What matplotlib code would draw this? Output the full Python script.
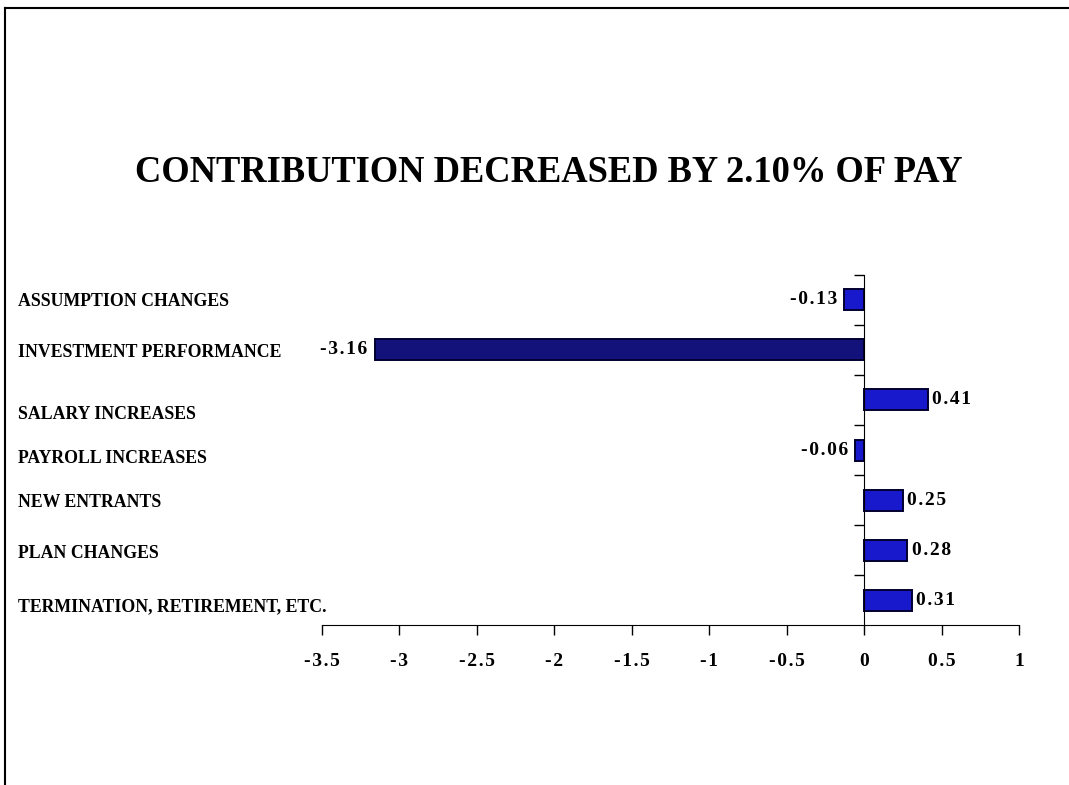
import numpy as np
import matplotlib as mpl
import matplotlib.pyplot as plt
from matplotlib import transforms
from matplotlib.lines import Line2D

mpl.use('Agg')
plt.rcParams['font.family'] = ['Liberation Serif', 'DejaVu Serif']
plt.rcParams['font.weight'] = 'bold'
plt.rcParams['axes.unicode_minus'] = False

title = 'CONTRIBUTION DECREASED BY 2.10% OF PAY'
categories = ['ASSUMPTION CHANGES', 'INVESTMENT PERFORMANCE', 'SALARY INCREASES',
              'PAYROLL INCREASES', 'NEW ENTRANTS', 'PLAN CHANGES',
              'TERMINATION, RETIREMENT, ETC.']
values = [-0.13, -3.16, 0.41, -0.06, 0.25, 0.28, 0.31]
xticks = [-3.5, -3, -2.5, -2, -1.5, -1, -0.5, 0, 0.5, 1]


def spaced(s):
    # the original text is slightly letter-spaced
    return '\u200a'.join(s)


fig = plt.figure(figsize=(10.69, 7.85), dpi=100)
ax = fig.add_axes([0.3012, 0.2038, 0.652, 0.4459])

y = np.arange(len(categories))
colors = ['#1818cc' if v != min(values) else '#12127a' for v in values]
ax.barh(y, values, height=0.42, color=colors, edgecolor='#000030', linewidth=1.4)

ax.set_ylim(len(categories) - 0.5, -0.5)
ax.set_xlim(-3.5, 1)
ax.set_yticks(np.arange(len(categories)) - 0.5)
ax.set_yticklabels([])
ax.set_xticks(xticks)
ax.set_xticklabels([spaced(f'{t:g}') for t in xticks], fontsize=14, fontweight='bold')
ax.tick_params(axis='x', direction='out', length=7, width=1, pad=13)
ax.tick_params(axis='y', direction='out', length=7, width=1)

ax.spines['left'].set_position(('data', 0))
ax.spines['top'].set_visible(False)
ax.spines['right'].set_visible(False)

# value labels next to bar ends
for yi, v in zip(y, values):
    if v < 0:
        ax.annotate(spaced(f'{v:.2f}'), (v, yi), xytext=(-5, 0), textcoords='offset points',
                    ha='right', va='center', fontsize=14, fontweight='bold')
    else:
        ax.annotate(spaced(f'{v:.2f}'), (v, yi), xytext=(3, 0), textcoords='offset points',
                    ha='left', va='center', fontsize=14, fontweight='bold')

# category labels at the left of the figure (small vertical nudges as in the original)
nudge = [2, 3, 15, 8, 2, 3, 7]
tr = transforms.blended_transform_factory(fig.transFigure, ax.transData)
for yi, c, n in zip(y, categories, nudge):
    t = transforms.offset_copy(tr, fig=fig, y=-n, units='dots')
    fig.text(0.017, yi, c, transform=t, ha='left', va='center',
             fontsize=12.8, fontweight='bold')

fig.text(0.513, 0.78, title, ha='center', va='center', fontsize=26.3, fontweight='bold')

# frame lines of the slide
fig.add_artist(Line2D([0.005, 0.005], [0.0, 0.99], color='black', lw=1.5, transform=fig.transFigure))
fig.add_artist(Line2D([0.005, 1.0], [0.99, 0.99], color='black', lw=1.5, transform=fig.transFigure))

fig.savefig('out.png', dpi=100)
